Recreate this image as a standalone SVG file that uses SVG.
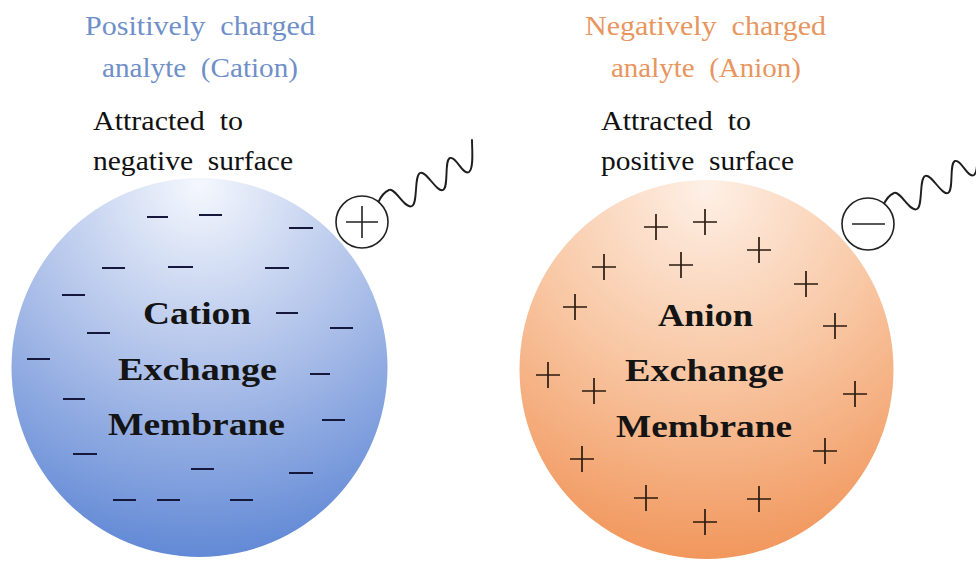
<svg xmlns="http://www.w3.org/2000/svg" width="976" height="562" viewBox="0 0 976 562">
<defs>
<radialGradient id="gBlue" cx="0.5" cy="0.02" r="1" fx="0.5" fy="0.02">
<stop offset="0" stop-color="#f4f7fd"/>
<stop offset="0.5" stop-color="#adc0e9"/>
<stop offset="1" stop-color="#5f87d5"/>
</radialGradient>
<radialGradient id="gOrange" cx="0.5" cy="0.02" r="1" fx="0.5" fy="0.02">
<stop offset="0" stop-color="#fef0e6"/>
<stop offset="0.5" stop-color="#f8c6a2"/>
<stop offset="1" stop-color="#f1955a"/>
</radialGradient>
<path id="wave" d="M378,203 C381,196 384,192 389,190 C395,187 405,210 412,206 C418,203 414,176 420,173 C426,170 437,193 443,190 C449,187 444,160 450,158 C456,156 463,176 469,172 C474,168 472,150 472,140"/>
</defs>
<style>
.hdr{font-family:"Liberation Serif","Times New Roman",serif;font-size:27px;white-space:pre}
.blue{fill:#6f8fc8}
.orange{fill:#e8955e}
.blk{fill:#111}
.bold{font-family:"Liberation Serif","Times New Roman",serif;font-size:31px;font-weight:bold;fill:#141414}
.dash{stroke:#15183a;stroke-width:2.2;fill:none}
.plus{stroke:#2a1a10;stroke-width:1.7;fill:none}
.sym{stroke:#222;stroke-width:1.6;fill:#fff}
.symline{stroke:#222;stroke-width:1.6;fill:none}
.wave{stroke:#1e1e1e;stroke-width:1.9;fill:none;stroke-linecap:round;stroke-linejoin:round}
</style>
<rect width="976" height="562" fill="#fff"/>

<g id="cation-header">
<text class="hdr blue" x="85" y="35" textLength="230" lengthAdjust="spacingAndGlyphs">Positively  charged</text>
<text class="hdr blue" x="102" y="77" textLength="196" lengthAdjust="spacingAndGlyphs">analyte  (Cation)</text>
<text class="hdr blk" x="93" y="130" textLength="150" lengthAdjust="spacingAndGlyphs">Attracted  to</text>
<text class="hdr blk" x="93" y="170" textLength="200" lengthAdjust="spacingAndGlyphs">negative  surface</text>
</g>

<g id="anion-header">
<text class="hdr orange" x="585" y="35" textLength="241" lengthAdjust="spacingAndGlyphs">Negatively  charged</text>
<text class="hdr orange" x="611" y="77" textLength="190" lengthAdjust="spacingAndGlyphs">analyte  (Anion)</text>
<text class="hdr blk" x="601" y="130" textLength="150" lengthAdjust="spacingAndGlyphs">Attracted  to</text>
<text class="hdr blk" x="601" y="170" textLength="193" lengthAdjust="spacingAndGlyphs">positive  surface</text>
</g>

<g id="cation-membrane">
<ellipse cx="199.5" cy="367.5" rx="188" ry="189.5" fill="url(#gBlue)"/>
<text class="bold" x="143" y="324" textLength="108" lengthAdjust="spacingAndGlyphs">Cation</text>
<text class="bold" x="118" y="380" textLength="159" lengthAdjust="spacingAndGlyphs">Exchange</text>
<text class="bold" x="108" y="435" textLength="177" lengthAdjust="spacingAndGlyphs">Membrane</text>
<path class="dash" d="M147,217h21 M199,215h23 M289,228h24 M102,268h23 M168,267h25 M265,268h24 M62,295h23 M87,333h23 M276,313h22 M330,328h23 M27,359h23 M310,374h20 M63,399h22 M322,420h23 M73,454h24 M191,469h23 M289,473h24 M113,500h23 M157,500h23 M230,500h23"/>
</g>

<g id="anion-membrane">
<ellipse cx="706.5" cy="369.5" rx="187" ry="189.5" fill="url(#gOrange)"/>
<text class="bold" x="658" y="326" textLength="95" lengthAdjust="spacingAndGlyphs">Anion</text>
<text class="bold" x="625" y="381" textLength="159" lengthAdjust="spacingAndGlyphs">Exchange</text>
<text class="bold" x="616" y="437" textLength="176" lengthAdjust="spacingAndGlyphs">Membrane</text>
<path class="plus" d="M644,227h24M656,214v26 M693,222h24M705,209v26 M747,250h24M759,237v26 M592,267h24M604,254v26 M669,265h24M681,252v26 M794,284h24M806,271v26 M563,307h24M575,294v26 M823,326h24M835,313v26 M536,375h24M548,362v26 M582,391h24M594,378v26 M843,394h24M855,381v26 M570,459h24M582,446v26 M813,451h24M825,438v26 M634,498h24M646,485v26 M747,499h24M759,486v26 M693,522h24M705,509v26"/>
</g>

<g id="cation-analyte">
<use href="#wave" class="wave"/>
<circle class="sym" cx="362" cy="222" r="26"/>
<path class="symline" d="M346,222h32 M362,206v32"/>
</g>

<g id="anion-analyte">
<use href="#wave" class="wave" transform="translate(505,3)"/>
<circle class="sym" cx="868" cy="224" r="26"/>
<path class="symline" d="M852,224h33"/>
</g>

<g id="connectors"/>
</svg>
